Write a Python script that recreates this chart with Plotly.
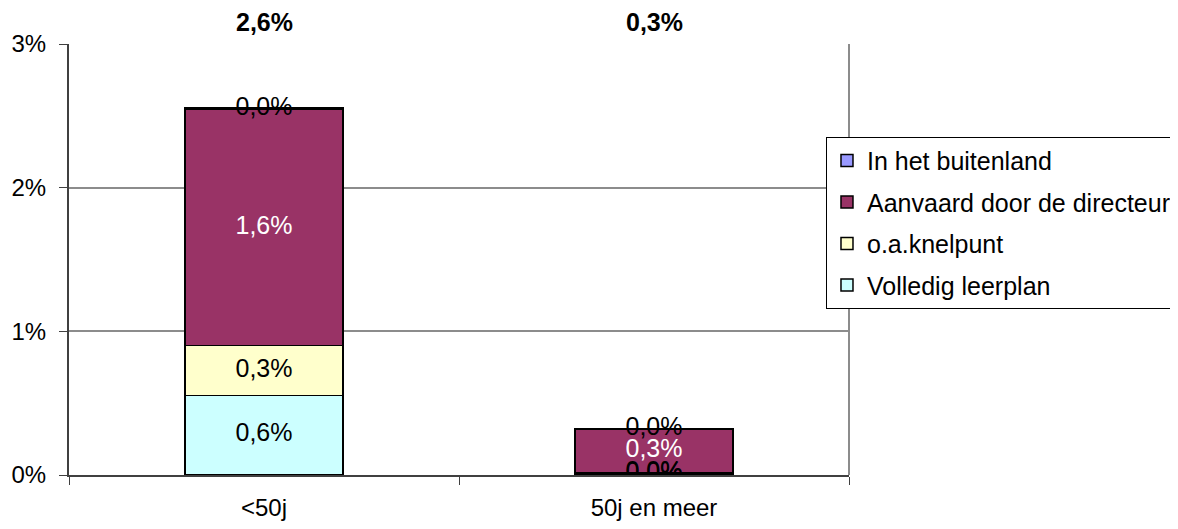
import plotly.graph_objects as go

categories = ["<50j", "50j en meer"]
series_names = ["Volledig leerplan", "o.a.knelpunt", "Aanvaard door de directeur", "In het buitenland"]
volledig = [0.555, 0.015]
knelpunt = [0.345, 0.0]
aanvaard = [1.645, 0.305]
buitenland = [0.008, 0.0]
colors = ["#CCFFFF", "#FFFFCC", "#993366", "#9999FF"]
label_colors = ["black", "black", "white", "black"]
y_ticks = [0, 1, 2, 3]

FONT = "Liberation Sans, Arial, sans-serif"
FS = 25

def fmt(v):
    return f"{v:.1f}".replace(".", ",") + "%"

all_series = [volledig, knelpunt, aanvaard, buitenland]

fig = go.Figure()
n = len(series_names)
for i, (name, vals, col) in enumerate(zip(series_names, all_series, colors)):
    fig.add_trace(go.Bar(
        x=categories, y=vals, name=name, legendgroup=name,
        legendrank=n - i,
        marker=dict(color=col, line=dict(color="black", width=1.5)),
    ))

# data labels centered in each segment
base = [0.0] * len(categories)
for vals, lc in zip(all_series, label_colors):
    mids = [b + v / 2 for b, v in zip(base, vals)]
    fig.add_trace(go.Scatter(
        x=categories, y=mids, mode="text",
        text=[fmt(v) for v in vals],
        textfont=dict(family=FONT, size=FS, color=lc),
        showlegend=False, hoverinfo="skip",
    ))
    base = [b + v for b, v in zip(base, vals)]

totals = base
for c, t in zip(categories, totals):
    fig.add_annotation(x=c, y=1, yref="paper", yshift=22, text=f"<b>{fmt(t)}</b>",
                       showarrow=False, font=dict(family=FONT, size=FS, color="black"),
                       yanchor="middle")

# right border of plot area
fig.add_shape(type="line", xref="paper", yref="paper", x0=1, x1=1, y0=0, y1=1,
              line=dict(color="#8c8c8c", width=2))

fig.update_layout(
    barmode="stack",
    bargap=0.595,
    width=1178, height=529,
    margin=dict(l=61, r=337, t=36, b=62, autoexpand=False),
    paper_bgcolor="white", plot_bgcolor="white",
    font=dict(family=FONT, size=FS, color="black"),
    legend=dict(
        x=0.9705, y=0.785, xanchor="left", yanchor="top",
        traceorder="grouped", tracegroupgap=6,
        bordercolor="black", borderwidth=1,
        font=dict(family=FONT, size=25, color="black"),
        bgcolor="white",
    ),
    xaxis=dict(
        type="category", automargin=False,
        showline=True, linecolor="#404040", linewidth=2,
        ticks="outside", tickson="boundaries", ticklen=8, tickcolor="#404040",
        tickfont=dict(family=FONT, size=24),
        ticklabelstandoff=10,
        showgrid=False,
    ),
    yaxis=dict(
        range=[0, 3], automargin=False,
        tickvals=y_ticks, ticktext=[f"{v}%" for v in y_ticks],
        showline=True, linecolor="#404040", linewidth=2,
        ticks="outside", ticklen=8, tickcolor="#404040",
        ticklabelstandoff=8,
        showgrid=True, gridcolor="#8c8c8c", gridwidth=2,
        zeroline=False,
        tickfont=dict(family=FONT, size=24),
    ),
)

fig.write_html("out.html")
